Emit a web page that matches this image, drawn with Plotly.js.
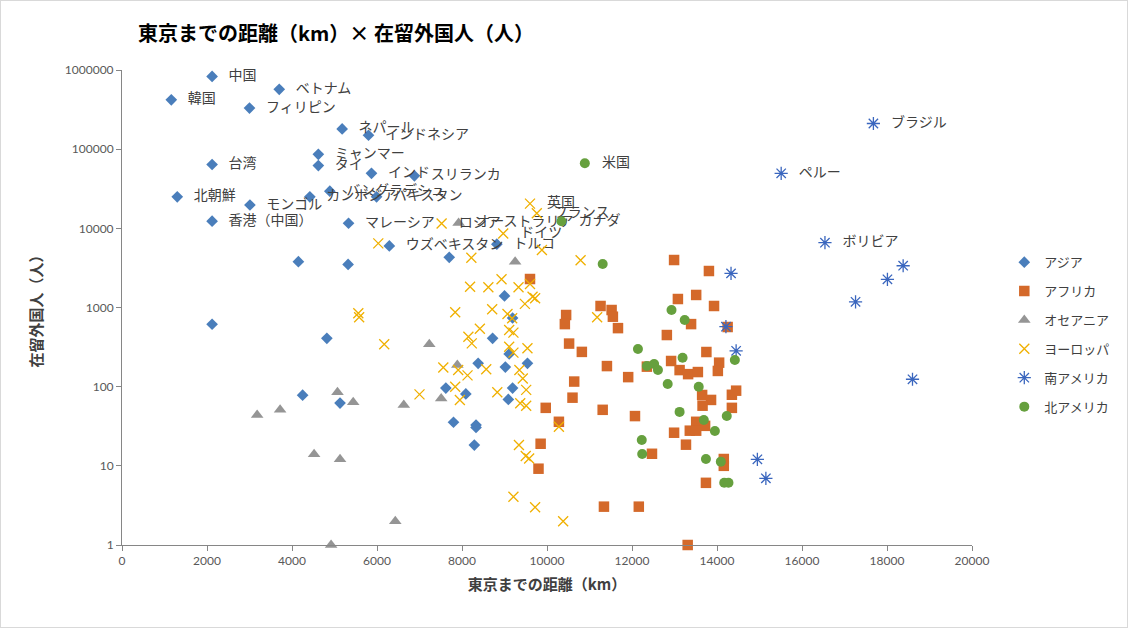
<!DOCTYPE html>
<html><head><meta charset="utf-8">
<script src="https://cdn.plot.ly/plotly-3.0.1.min.js"></script>
<style>html,body{margin:0;padding:0;background:#fff}#chart{width:1126px;height:626px;border:1px solid #d9d9d9}</style>
</head><body><div id="chart"></div>
<script>
// ---- data (distance km, residents) ----
const asiaLabels = ["中国","ベトナム","韓国","フィリピン","ネパール","インドネシア","台湾","ミャンマー","タイ","インド","スリランカ","北朝鮮","カンボジア","バングラデシュ","パキスタン","モンゴル","香港（中国）","マレーシア","ウズベキスタン","トルコ",
  "","","","","","","","","","","","","","","","","","","","","",""];
const asiaX = [2120,3700,1160,3000,5180,5800,2120,4620,4620,5870,6880,1300,4420,4890,5990,3010,2120,5330,6290,8820,
  4150,5320,7700,2120,4820,4250,5130,9000,9190,8720,9110,9540,8380,9020,7620,8090,9190,9090,7800,8330,8330,8290];
const asiaY = [830000,570000,420000,330000,180000,150000,64000,86000,62000,49500,46000,25000,25000,29500,25000,19700,12300,11600,6000,6300,
  3790,3500,4300,614,408,78,62,1400,737,408,259,197,197,177,96,81,96,69,35.5,32.8,30.5,18.3];

const africaX = [9600,10450,10420,11260,10520,10820,10640,10600,9970,10280,9850,9800,12990,13810,13080,13510,13930,11520,11550,11670,13390,14250,12820,13750,11410,12350,12920,11910,13120,13320,13550,14050,14020,13650,13860,13660,14350,14450,14350,11310,12070,13510,13720,13360,13510,12990,13270,12470,14160,14160,13740,11340,12160,13310];
const africaY = [2290,804,617,1045,350,275,116,72.6,54,36,19,9.2,3980,2890,1280,1440,1045,930,765,549,617,567,449,274,182,179,211,132,162,144,153,201,158,78.5,68,57.5,79,89,54,51,42.5,36,32,27.8,27.8,26.2,18.5,14.2,12.2,10,6.1,3.05,3.05,1];

const oceaniaLabels = ["オーストラリア"];
const oceaniaX = [7920,3180,3720,5070,5440,6630,4520,5130,6430,4920,9250,7230,7890,7510];
const oceaniaY = [11700,44,51,85,63.5,58.6,14,12.1,2,1,3790,343,188,71];

const europeLabels = ["英国","フランス","ドイツ","ロシア"];
const europeX = [9600,9760,8970,7520,6030,9880,8220,10790,11180,8190,8620,8930,9330,9600,9660,9720,9480,7840,8710,9070,9180,8420,8150,8230,9110,9210,9110,9210,9540,7560,7910,8130,8570,9350,9430,7840,9510,7000,7950,8830,9370,9510,10280,9340,9500,9580,9210,9720,10380,5560,5580,6170];
const europeY = [20500,15500,8600,11500,6450,5320,4250,3950,752,1830,1800,2270,1800,1980,1370,1310,1110,870,950,828,730,540,428,352,520,482,320,269,305,175,162,139,166,162,127,100,91,80,68,85,61.6,57.5,31.2,18.3,13.3,12.4,4.07,3.0,2.0,844,752,343];

const samericaLabels = ["ブラジル","ペルー","ボリビア"];
const samericaX = [17680,15510,16540,14330,18380,18010,17260,14210,14450,18600,14950,15150];
const samericaY = [211000,49500,6580,2700,3370,2270,1180,572,284,124,12.1,6.95];

const namericaLabels = ["米国","カナダ"];
const namericaX = [10890,10340,11310,12930,13240,12140,13190,14420,12350,12520,12610,12840,13570,13120,13690,14230,13950,12230,12240,13740,14090,14170,14270];
const namericaY = [66500,12300,3550,930,695,299,232,217,182,193,162,108,100,48,38,42.6,27.5,21.2,14.1,12.2,11.3,6.1,6.1];

const seriesNames = ["アジア","アフリカ","オセアニア","ヨーロッパ","南アメリカ","北アメリカ"];
const xTickVals = [0,2000,4000,6000,8000,10000,12000,14000,16000,18000,20000];
const xTickText = ["0","2000","4000","6000","8000","10000","12000","14000","16000","18000","20000"];
const yTickVals = [1,10,100,1000,10000,100000,1000000];
const yTickText = ["1","10","100","1000","10000","100000","1000000"];

// ---- chart ----
const JP = "'Noto Sans CJK JP', sans-serif";
const NUM = "Lato, 'Noto Sans CJK JP', sans-serif";
const textFont = {family: JP, size: 14, color: '#404040'};
function pad(labels, n){
  const a = labels.map(s => s ? '\u2002\u2009' + s : '');
  while (a.length < n) a.push('');
  return a;
}
function tr(name, x, y, labels, marker){
  return {type:'scatter', mode:'markers+text', name:name, x:x, y:y,
    text: pad(labels, x.length), textposition:'middle right', textfont:textFont,
    marker:marker, cliponaxis:false, legendgroup:name, hoverinfo:'x+y+text'};
}
const data = [
  tr(seriesNames[0], asiaX, asiaY, asiaLabels, {symbol:'diamond', size:9, color:'#4A7EBB'}),
  tr(seriesNames[1], africaX, africaY, [], {symbol:'square', size:10.5, color:'#D4692A'}),
  tr(seriesNames[2], oceaniaX, oceaniaY, oceaniaLabels, {symbol:'triangle-up', size:11, color:'#959595'}),
  tr(seriesNames[3], europeX, europeY, europeLabels, {symbol:'x-thin-open', size:10, color:'#F0B000', line:{color:'#F0B000', width:1.3}}),
  tr(seriesNames[4], samericaX, samericaY, samericaLabels, {symbol:'asterisk-open', size:11, color:'#3A66BE', line:{color:'#3A66BE', width:1.3}}),
  tr(seriesNames[5], namericaX, namericaY, namericaLabels, {symbol:'circle', size:10, color:'#66A03E'})
];
const layout = {
  width:1126, height:626,
  margin:{l:121, r:155, t:69, b:82, autoexpand:false},
  paper_bgcolor:'#fff', plot_bgcolor:'#fff',
  title:{text:'<b>東京までの距離（km）× 在留外国人（人）</b>', font:{family:JP, size:20, color:'#000'},
    x:137/1126, xref:'container', xanchor:'left', y:1-33/626, yref:'container', yanchor:'middle'},
  xaxis:{range:[0,20000], tickvals:xTickVals, ticktext:xTickText, showgrid:false, zeroline:false, showline:true,
    linecolor:'#868686', linewidth:1, ticks:'outside', ticklen:5, tickcolor:'#868686',
    tickfont:{family:NUM, size:12, color:'#595959'},
    title:{text:'<b>東京までの距離（km）</b>', font:{family:JP, size:15, color:'#404040'}, standoff:12}},
  yaxis:{type:'log', range:[0,6], tickvals:yTickVals, ticktext:yTickText, showgrid:false, zeroline:false,
    showline:true, linecolor:'#868686', linewidth:1, ticks:'outside', ticklen:5, tickcolor:'#868686',
    tickfont:{family:NUM, size:12, color:'#595959'},
    title:{text:'<b>在留外国人（人）</b>', font:{family:JP, size:15, color:'#404040'}, standoff:18}},
  showlegend:true,
  legend:{x:1.038, xanchor:'left', y:0.627, yanchor:'top', font:{family:JP, size:13, color:'#404040'},
    tracegroupgap:9, itemwidth:30, bgcolor:'rgba(0,0,0,0)'},
  hovermode:'closest'
};
Plotly.newPlot('chart', data, layout, {displayModeBar:false, responsive:false});
</script></body></html>
